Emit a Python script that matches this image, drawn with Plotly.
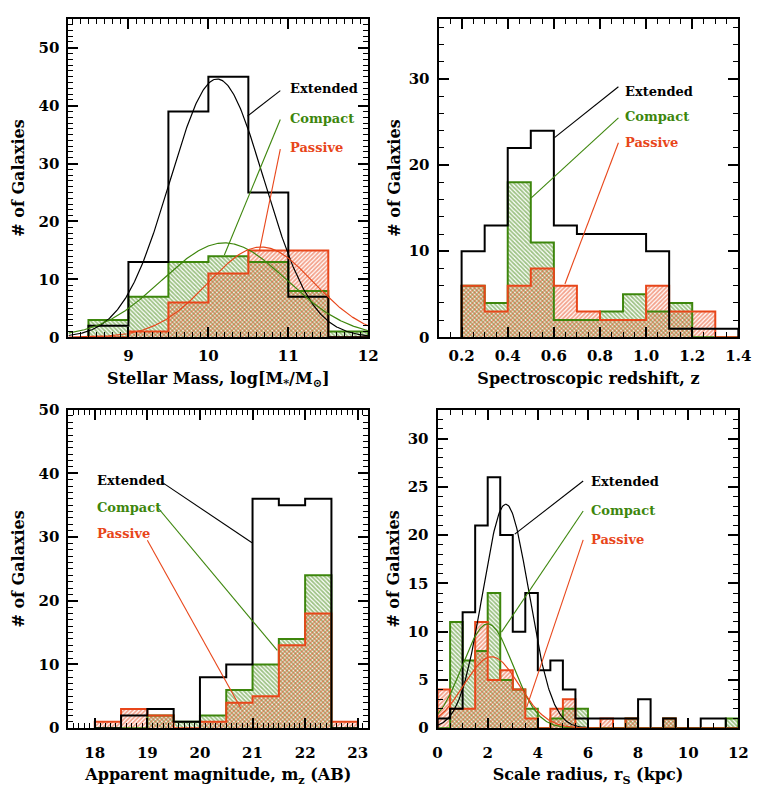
import numpy as np
import plotly.graph_objects as go

GREEN = '#3d860c'
RED = '#e8461a'
BLACK = '#000000'
FONT = 'DejaVu Serif'

# ---------------- data ----------------
# Panel 1: stellar mass
mass_edges = [8.5, 9.0, 9.5, 10.0, 10.5, 11.0, 11.5, 12.0]
mass_extended = [2, 13, 39, 45, 25, 7, 0]
mass_compact = [3, 7, 13, 14, 13, 8, 1]
mass_passive = [0, 1, 6, 11, 15, 15, 0]
# gaussian fits: amplitude, mean, sigma
mass_fit_extended = [44.6, 10.11, 0.59]
mass_fit_compact = [16.3, 10.20, 0.78]
mass_fit_passive = [15.6, 10.66, 0.66]

# Panel 2: spectroscopic redshift
z_edges = [0.2, 0.3, 0.4, 0.5, 0.6, 0.7, 0.8, 0.9, 1.0, 1.1, 1.2, 1.3, 1.4]
z_extended = [10, 13, 22, 24, 13, 12, 12, 12, 10, 1, 1, 1]
z_compact = [6, 4, 18, 11, 2, 2, 3, 5, 3, 4, 0, 0]
z_passive = [6, 3, 6, 8, 6, 3, 2, 2, 6, 3, 3, 0]

# Panel 3: apparent magnitude
mag_edges = [18.0, 18.5, 19.0, 19.5, 20.0, 20.5, 21.0, 21.5, 22.0, 22.5, 23.0]
mag_extended = [0, 2, 3, 1, 8, 10, 36, 35, 36, 0]
mag_compact = [0, 0, 2, 1, 2, 6, 10, 14, 24, 0]
mag_passive = [1, 3, 2, 0, 1, 4, 5, 13, 18, 1]

# Panel 4: scale radius
rs_edges = [0.0, 0.5, 1.0, 1.5, 2.0, 2.5, 3.0, 3.5, 4.0, 4.5, 5.0, 5.5, 6.0,
            6.5, 7.0, 7.5, 8.0, 8.5, 9.0, 9.5, 10.0, 10.5, 11.0, 11.5, 12.0]
rs_extended = [1, 2, 12, 21, 26, 20, 10, 14, 6, 7, 4, 1, 1, 1, 1, 1, 3, 0, 1, 0, 0, 1, 1, 0]
rs_compact = [0, 11, 7, 8, 14, 5, 4, 2, 0, 1, 2, 2, 0, 0, 0, 1, 0, 0, 1, 0, 0, 0, 0, 1]
rs_passive = [4, 2, 2, 11, 5, 6, 4, 1, 0, 2, 3, 0, 0, 1, 0, 1, 0, 0, 1, 0, 0, 0, 0, 0]
rs_fit_extended = [23.2, 2.72, 0.92]
rs_fit_compact = [10.8, 2.00, 1.00]
rs_fit_passive = [7.4, 2.15, 1.10]

series_labels = ['Extended', 'Compact', 'Passive']

# ---------------- layout config ----------------
panels = [
    dict(edges=mass_edges, ext=mass_extended, comp=mass_compact, pas=mass_passive,
         fits=[mass_fit_extended, mass_fit_compact, mass_fit_passive],
         xrange=[8.25, 12], yrange=[0, 55], xdtick=1, xtick0=9, xminor=0.1,
         ydtick=10, yminor=1, xfmt='d',
         xtitle='Stellar Mass, log[M<sub>*</sub>/M<sub>⊙</sub>]',
         xdom=[65, 372], ydom=[10, 336], xstand=4, ytstand=10,
         label_x=11.0, label_y=[42.9, 37.8, 32.7],
         leaders=[[10.90, 42.6, 10.49, 38.2], [10.90, 37.6, 10.20, 14.2], [10.90, 32.5, 10.64, 15.0]]),
    dict(edges=z_edges, ext=z_extended, comp=z_compact, pas=z_passive, fits=None,
         xrange=[0.1, 1.4], yrange=[0, 37], xdtick=0.2, xtick0=0.2, xminor=0.05,
         ydtick=10, yminor=2, xfmt='.1f',
         xtitle='Spectroscopic redshift, z',
         xdom=[444, 751], ydom=[10, 336], xstand=4, ytstand=4,
         label_x=0.899, label_y=[28.6, 25.6, 22.6],
         leaders=[[0.880, 29.1, 0.603, 23.2], [0.880, 25.5, 0.502, 16.2], [0.880, 22.6, 0.648, 6.2]]),
    dict(edges=mag_edges, ext=mag_extended, comp=mag_compact, pas=mag_passive, fits=None,
         xrange=[17.5, 23.2], yrange=[0, 50], xdtick=1, xtick0=18, xminor=0.1,
         ydtick=10, yminor=1, xfmt='d',
         xtitle='Apparent magnitude, m<sub>z</sub> (AB)',
         xdom=[65, 372], ydom=[410, 736], xstand=10, ytstand=10,
         label_x=18.0, label_y=[38.8, 34.7, 30.6],
         leaders=[[19.26, 38.7, 20.99, 29.1], [19.20, 34.6, 21.47, 12.2], [19.00, 29.5, 20.78, 3.1]]),
    dict(edges=rs_edges, ext=rs_extended, comp=rs_compact, pas=rs_passive,
         fits=[rs_fit_extended, rs_fit_compact, rs_fit_passive],
         xrange=[0, 12], yrange=[0, 33], xdtick=2, xtick0=0, xminor=0.5,
         ydtick=5, yminor=1, xfmt='d',
         xtitle='Scale radius, r<sub>S</sub> (kpc)',
         xdom=[443, 751], ydom=[410, 736], xstand=10, ytstand=4,
         label_x=6.03, label_y=[25.6, 22.5, 19.5],
         leaders=[[5.81, 25.6, 3.08, 20.1], [5.81, 22.5, 2.55, 9.95], [5.81, 19.5, 3.56, 2.2]]),
]

W, H = 765, 787
colors = [BLACK, GREEN, RED]
fig = go.Figure()
shapes = []
annotations = []
layout = dict(width=W, height=H, margin=dict(l=0, r=0, t=0, b=0),
              paper_bgcolor='white', plot_bgcolor='white', showlegend=False,
              barmode='overlay', font=dict(family=FONT, size=15, color='black', weight='bold'))


def step_xy(edges, counts):
    n = len(counts)
    xs = [edges[0]] + list(edges[:n]) + [edges[n]]
    ys = [0] + list(counts) + [0]
    return xs, ys


for i, p in enumerate(panels, start=1):
    xa = 'x' if i == 1 else f'x{i}'
    ya = 'y' if i == 1 else f'y{i}'
    edges = np.array(p['edges'], dtype=float)
    centers = (edges[:-1] + edges[1:]) / 2
    widths = edges[1:] - edges[:-1]

    # hatched filled histograms (compact, passive)
    for counts, col, shape in [(p['comp'], GREEN, '\\'), (p['pas'], RED, '/')]:
        fig.add_trace(go.Bar(x=centers, y=counts, width=widths, xaxis=xa, yaxis=ya,
                             marker=dict(color=col, line=dict(width=0),
                                         pattern=dict(shape=shape, fgcolor=col,
                                                      bgcolor='rgba(0,0,0,0)',
                                                      size=3, solidity=0.6)),
                             hoverinfo='skip'))
    # outlines
    for counts, col in [(p['comp'], GREEN), (p['pas'], RED), (p['ext'], BLACK)]:
        sx, sy = step_xy(p['edges'], counts)
        fig.add_trace(go.Scatter(x=sx, y=sy, mode='lines', line=dict(color=col, width=2, shape='hv'),
                                 xaxis=xa, yaxis=ya, hoverinfo='skip', cliponaxis=True))
    # gaussian fits
    if p['fits']:
        xg = np.linspace(p['xrange'][0], p['xrange'][1], 400)
        for (amp, mu, sig), col in zip(p['fits'], colors):
            fig.add_trace(go.Scatter(x=xg, y=amp * np.exp(-(xg - mu) ** 2 / (2 * sig ** 2)),
                                     mode='lines', line=dict(color=col, width=1.2),
                                     xaxis=xa, yaxis=ya, hoverinfo='skip'))
    # labels and leader lines
    for lab, ly, ld, col in zip(series_labels, p['label_y'], p['leaders'], colors):
        annotations.append(dict(x=p['label_x'], y=ly, xref=xa, yref=ya, text=lab, showarrow=False,
                                xanchor='left', yanchor='middle',
                                font=dict(family=FONT, size=13, color=col, weight='bold')))
        shapes.append(dict(type='line', xref=xa, yref=ya, x0=ld[0], y0=ld[1], x1=ld[2], y1=ld[3],
                           line=dict(color=col, width=1.1)))

    xd = [p['xdom'][0] / W, p['xdom'][1] / W]
    yd = [1 - p['ydom'][1] / H, 1 - p['ydom'][0] / H]
    axis_common = dict(showline=True, linewidth=2, linecolor='black', mirror='allticks',
                       ticks='inside', tickwidth=1.5, tickcolor='black', showgrid=False,
                       zeroline=False,
                       tickfont=dict(family=FONT, size=15, color='black', weight='bold'))
    layout['xaxis' if i == 1 else f'xaxis{i}'] = dict(
        axis_common, domain=xd, range=p['xrange'], anchor=ya, dtick=p['xdtick'], tick0=p['xtick0'],
        tickformat=p['xfmt'], ticklen=10, ticklabelstandoff=p['xstand'],
        minor=dict(dtick=p['xminor'], ticklen=5, tickwidth=1, ticks='inside', tickcolor='black'),
        title=dict(text=p['xtitle'], standoff=8,
                   font=dict(family=FONT, size=16, color='black', weight='bold')))
    layout['yaxis' if i == 1 else f'yaxis{i}'] = dict(
        axis_common, domain=yd, range=p['yrange'], anchor=xa, dtick=p['ydtick'], tick0=0, ticklen=10,
        ticklabelstandoff=4,
        minor=dict(dtick=p['yminor'], ticklen=5, tickwidth=1, ticks='inside', tickcolor='black'),
        title=dict(text='# of Galaxies', standoff=p['ytstand'],
                   font=dict(family=FONT, size=16, color='black', weight='bold')))

layout['shapes'] = shapes
layout['annotations'] = annotations
fig.update_layout(**layout)
fig.write_html('out.html')
